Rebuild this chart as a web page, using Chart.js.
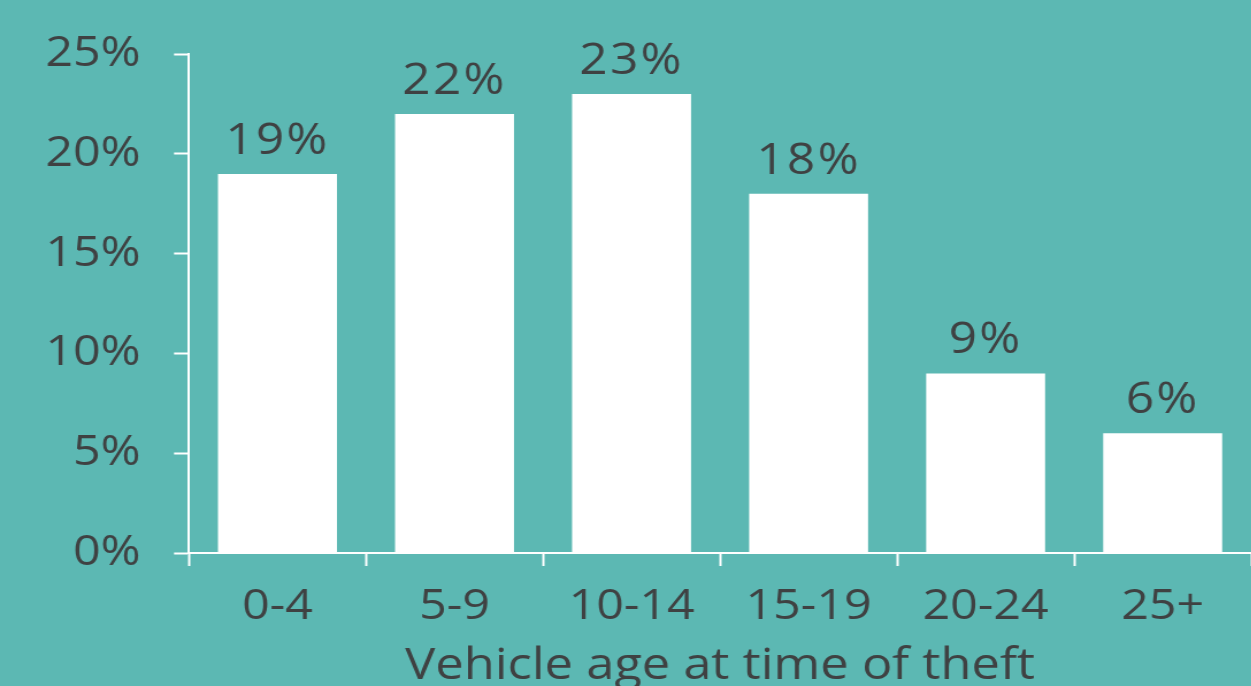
<!DOCTYPE html>
<html>
<head>
<meta charset="utf-8">
<script src="https://cdn.jsdelivr.net/npm/chart.js@4.4.0/dist/chart.umd.min.js"></script>
<style>
  html, body { margin: 0; padding: 0; background: #5cb8b3; overflow: hidden; }
  /* the reference lettering is wide, so the chart is drawn narrower and stretched */
  #wrap { width: 1088px; height: 686px; transform: scaleX(1.15); transform-origin: 0 0; }
</style>
</head>
<body>
<div id="wrap"><canvas id="chart"></canvas></div>
<script>
const ageGroups = ['0-4', '5-9', '10-14', '15-19', '20-24', '25+'];
const theftShare = [19, 22, 23, 18, 9, 6];
const yTicks = [0, 5, 10, 15, 20, 25];

const textColor = '#3f4142';
const fontFamily = '"Open Sans", "Noto Sans", sans-serif';

// value labels above each bar
const valueLabels = {
    id: 'valueLabels',
    afterDatasetsDraw(chart) {
        const ctx = chart.ctx;
        const meta = chart.getDatasetMeta(0);
        ctx.save();
        ctx.fillStyle = textColor;
        ctx.font = '500 43px ' + fontFamily;
        ctx.letterSpacing = '2px';
        ctx.textAlign = 'center';
        ctx.textBaseline = 'alphabetic';
        meta.data.forEach(function(bar, i) {
            ctx.fillText(theftShare[i] + '%', bar.x, bar.y - 20);
        });
        ctx.restore();
    }
};

const ctx = document.getElementById('chart').getContext('2d');
new Chart(ctx, {
    type: 'bar',
    data: {
        labels: ageGroups,
        datasets: [{
            data: theftShare,
            backgroundColor: '#ffffff',
            borderWidth: 0,
            barPercentage: 0.672,
            categoryPercentage: 1
        }]
    },
    options: {
        responsive: true,
        maintainAspectRatio: false,
        animation: false,
        layout: { padding: { top: 52, left: 0, right: 0, bottom: 0 } },
        plugins: {
            legend: { display: false },
            tooltip: { enabled: false }
        },
        scales: {
            x: {
                grid: {
                    drawOnChartArea: false,
                    drawTicks: true,
                    tickLength: 13,
                    tickWidth: 2,
                    color: '#ffffff'
                },
                border: { display: true, color: '#ffffff', width: 2 },
                ticks: {
                    color: textColor,
                    padding: 16,
                    font: { family: fontFamily, size: 42, weight: 500 }
                },
                title: {
                    display: true,
                    text: 'Vehicle age at time of theft',
                    color: textColor,
                    padding: 0,
                    font: { family: fontFamily, size: 44, weight: 500, lineHeight: 0.9 }
                },
                afterFit(scale) { scale.height = 133; }
            },
            y: {
                min: 0,
                max: 25,
                afterBuildTicks(scale) {
                    scale.ticks = yTicks.map(v => ({ value: v }));
                },
                grid: {
                    drawOnChartArea: false,
                    drawTicks: true,
                    tickLength: 13,
                    tickWidth: 2,
                    color: '#ffffff'
                },
                border: { display: true, color: '#ffffff', width: 2 },
                ticks: {
                    color: textColor,
                    padding: 29,
                    font: { family: fontFamily, size: 42, weight: 500 },
                    callback: v => v + '%'
                },
                afterFit(scale) { scale.width = 164.3; }
            }
        }
    },
    plugins: [valueLabels]
});
</script>
</body>
</html>
